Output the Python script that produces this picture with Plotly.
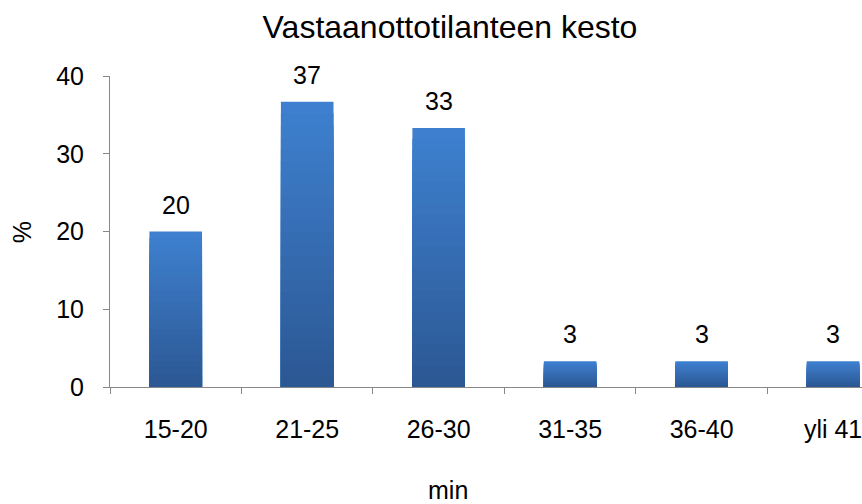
import plotly.graph_objects as go

categories = ["15-20", "21-25", "26-30", "31-35", "36-40", "yli 41"]
values = [20.0, 36.7, 33.3, 3.3, 3.3, 3.3]
y_ticks = [0, 10, 20, 30, 40]

title_text = "Vastaanottotilanteen kesto"
x_title = "min"
y_title = "%"

FONT = "Liberation Sans, Arial, sans-serif"
top_rgb = (62, 128, 207)
bot_rgb = (44, 88, 148)
N = 24

fig = go.Figure()
# per-bar vertical gradient: overlay progressively shorter, darker bars
for k in range(N):
    frac = 1 - k / N
    t = k / (N - 1)
    c = tuple(round(top_rgb[i] + (bot_rgb[i] - top_rgb[i]) * t) for i in range(3))
    fig.add_trace(go.Bar(
        x=categories,
        y=[v * frac for v in values],
        width=0.4,
        marker=dict(color="rgb(%d,%d,%d)" % c, line=dict(width=0)),
        showlegend=False,
        hoverinfo="skip",
    ))

for cat, v in zip(categories, values):
    fig.add_annotation(
        x=cat, y=v, text=f"{v:.0f}", showarrow=False,
        yanchor="bottom", yshift=11,
        font=dict(family=FONT, size=25, color="#000000"),
    )

fig.add_annotation(
    x=0.4495, y=-0.33, xref="paper", yref="paper", text=x_title,
    showarrow=False, xanchor="center", yanchor="middle",
    font=dict(family=FONT, size=25, color="#000000"),
)
fig.add_annotation(
    x=-0.117, y=0.498, xref="paper", yref="paper", text=y_title,
    showarrow=False, xanchor="center", yanchor="middle", textangle=-90,
    font=dict(family=FONT, size=25, color="#000000"),
)

fig.update_layout(
    width=862, height=504,
    margin=dict(l=110, r=0, t=76, b=117),
    paper_bgcolor="white", plot_bgcolor="white",
    barmode="overlay",
    title=dict(text=title_text, x=450 / 862, xanchor="center",
               y=1 - 27 / 504, yanchor="middle",
               font=dict(family=FONT, size=32, color="#000000")),
    font=dict(family=FONT, size=25, color="#000000"),
)
fig.update_xaxes(
    type="category", range=[-0.5, 5.22],
    showline=True, linecolor="#888888", linewidth=1,
    ticks="outside", tickson="boundaries", ticklen=6, tickcolor="#888888",
    ticklabelstandoff=20, showgrid=False, zeroline=False,
    tickfont=dict(family=FONT, size=25, color="#000000"),
)
fig.update_yaxes(
    range=[0, 40], tickvals=y_ticks,
    showline=True, linecolor="#888888", linewidth=1,
    ticks="outside", ticklen=6, tickcolor="#888888",
    ticklabelstandoff=14, showgrid=False, zeroline=False,
    tickfont=dict(family=FONT, size=25, color="#000000"),
)

fig.write_html("out.html")
